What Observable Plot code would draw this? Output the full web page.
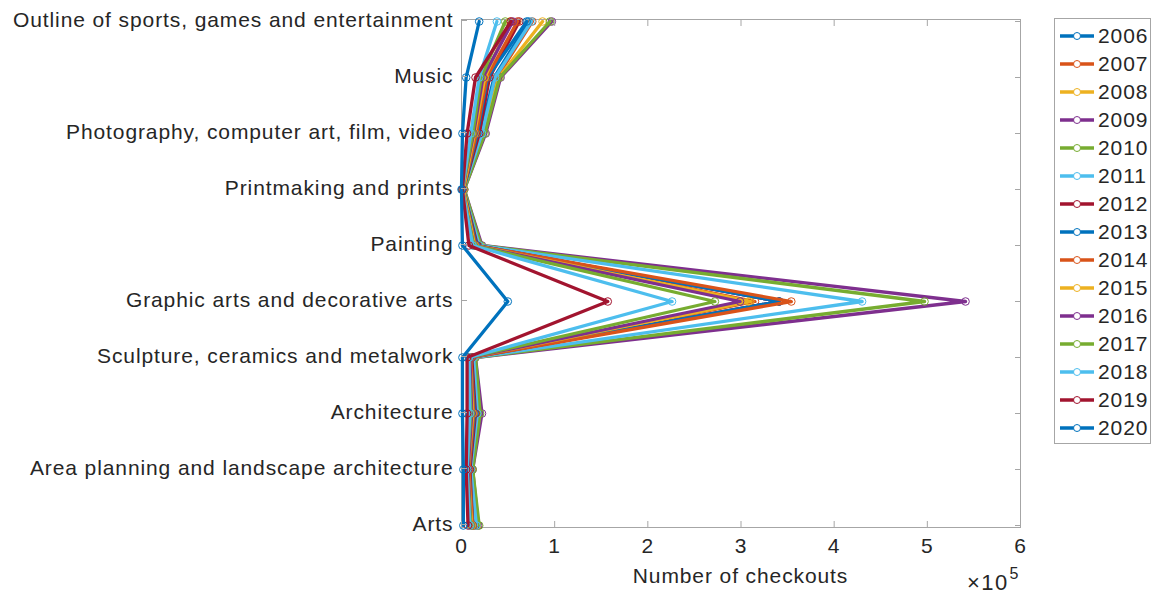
<!DOCTYPE html>
<html><head><meta charset="utf-8">
<script src="https://cdn.jsdelivr.net/npm/d3@7"></script>
<script src="https://cdn.jsdelivr.net/npm/@observablehq/plot@0.6"></script>
<style>
body{margin:0;background:#fff;font-family:"Liberation Sans",Arial,Helvetica,sans-serif;color:#262626}
#wrap{position:relative;width:1152px;height:594px;overflow:hidden}
#wrap > svg{position:absolute;left:0;top:0}
.xlabel{position:absolute;left:461px;width:559px;top:564px;text-align:center;font-size:21px;letter-spacing:0.9px;line-height:24px}
.exp{position:absolute;left:967px;top:571px;font-size:22px;letter-spacing:1.4px;line-height:24px}
.exp sup{font-size:16px;position:relative;top:-3px;vertical-align:super;line-height:0;margin-left:1px}
.legend{position:absolute;left:1054px;top:18px;width:97px;height:426px;border:1px solid #a6a6a6;background:#fff;box-sizing:border-box}
.item{position:absolute;left:4px;height:28px;display:flex;align-items:center;font-size:21px;letter-spacing:0.9px;white-space:nowrap}
.item svg{display:block;margin-right:3px}
</style></head><body><div id="wrap"></div><script>
const categories = ["Arts","Area planning and landscape architecture","Architecture","Sculpture, ceramics and metalwork","Graphic arts and decorative arts","Painting","Printmaking and prints","Photography, computer art, film, video","Music","Outline of sports, games and entertainment"];
const years = ["2006","2007","2008","2009","2010","2011","2012","2013","2014","2015","2016","2017","2018","2019","2020"];
const colors = ["#0072BD","#D95319","#EDB120","#7E2F8E","#77AC30","#4DBEEE","#A2142F"];
const xTicks = [0,100000,200000,300000,400000,500000,600000];
// checkouts per category (same order as categories)
const c2006 = [15000,10000,15000,12000,341000,18000,2000,20000,35000,72000];
const c2007 = [16000,11000,17000,13000,315000,19000,2000,22000,38000,76000];
const c2008 = [17000,11000,18000,14000,310000,20000,2000,23000,40000,87000];
const c2009 = [18000,12000,22000,15000,541000,22000,3000,26000,42000,97000];
const c2010 = [19000,12000,20000,15000,497000,21000,3000,25000,41000,95000];
const c2011 = [16000,10000,17000,13000,430000,19000,2000,22000,36000,75000];
const c2012 = [12000,9000,15000,11000,341000,17000,2000,19000,30000,62000];
const c2013 = [12000,8000,14000,10000,341000,16000,2000,17000,28000,70000];
const c2014 = [12000,8000,13000,10000,354000,15000,2000,16000,27000,60000];
const c2015 = [11000,7000,12000,9000,308000,14000,2000,14000,25000,52000];
const c2016 = [10000,7000,11000,9000,299000,13000,1000,13000,23000,55000];
const c2017 = [10000,6000,10000,8000,272000,13000,1000,12000,21000,47000];
const c2018 = [9000,6000,9000,8000,226000,12000,1000,10000,19000,38000];
const c2019 = [7000,5000,6000,6000,157000,8000,1000,6000,15000,53000];
const c2020 = [2000,2000,1000,1000,49700,1000,0,1000,5000,19000];
const series = [c2006,c2007,c2008,c2009,c2010,c2011,c2012,c2013,c2014,c2015,c2016,c2017,c2018,c2019,c2020];

const ink = "#262626", axisGray = "#a6a6a6";
const marks = [Plot.frame({stroke: axisGray})];
series.forEach((vals, i) => {
  const rows = vals.map((v, j) => ({category: categories[j], value: v, year: years[i]}));
  const col = colors[i % colors.length];
  marks.push(Plot.line(rows, {x: "value", y: "category", stroke: col, strokeWidth: 3.3}));
  marks.push(Plot.dot(rows, {x: "value", y: "category", stroke: col, r: 3.8, strokeWidth: 1, fill: "none"}));
});
marks.push(
  Plot.axisX({anchor: "bottom", ticks: xTicks, tickFormat: d => d / 1e5, tickSize: -6, tickPadding: 17, label: null, stroke: axisGray, fill: ink, fontSize: 21}),
  Plot.axisX({anchor: "top", ticks: xTicks, tickFormat: () => "", tickSize: -6, label: null, stroke: axisGray}),
  Plot.axisY({anchor: "left", tickSize: -6, tickPadding: 14, dy: -1, label: null, stroke: axisGray, fill: ink, fontSize: 21}),
  Plot.axisY({anchor: "right", tickSize: -6, tickFormat: () => "", label: null, stroke: axisGray})
);

const chart = Plot.plot({
  width: 1152, height: 594,
  marginLeft: 461, marginRight: 132, marginTop: 19, marginBottom: 67,
  style: {fontSize: "21px", letterSpacing: "0.9px", fontFamily: '"Liberation Sans", Arial, Helvetica, sans-serif', background: "white", color: ink, overflow: "visible"},
  x: {domain: [0, 600000]},
  y: {type: "point", domain: categories.slice().reverse(), padding: 0},
  marks
});
const wrap = document.getElementById("wrap");
wrap.appendChild(chart);

const xl = document.createElement("div"); xl.className = "xlabel"; xl.textContent = "Number of checkouts"; wrap.appendChild(xl);
const ex = document.createElement("div"); ex.className = "exp"; ex.innerHTML = "\u00d710<sup>5</sup>"; wrap.appendChild(ex);

const leg = document.createElement("div"); leg.className = "legend";
years.forEach((y, i) => {
  const col = colors[i % colors.length];
  const it = document.createElement("div"); it.className = "item";
  it.style.top = (3 + i * 28) + "px";
  it.innerHTML = `<svg width="36" height="12"><line x1="1" x2="35" y1="6" y2="6" stroke="${col}" stroke-width="3.3"/><circle cx="18" cy="6" r="3.5" fill="white" stroke="${col}" stroke-width="1"/></svg><span>${y}</span>`;
  leg.appendChild(it);
});
wrap.appendChild(leg);
</script></body></html>
